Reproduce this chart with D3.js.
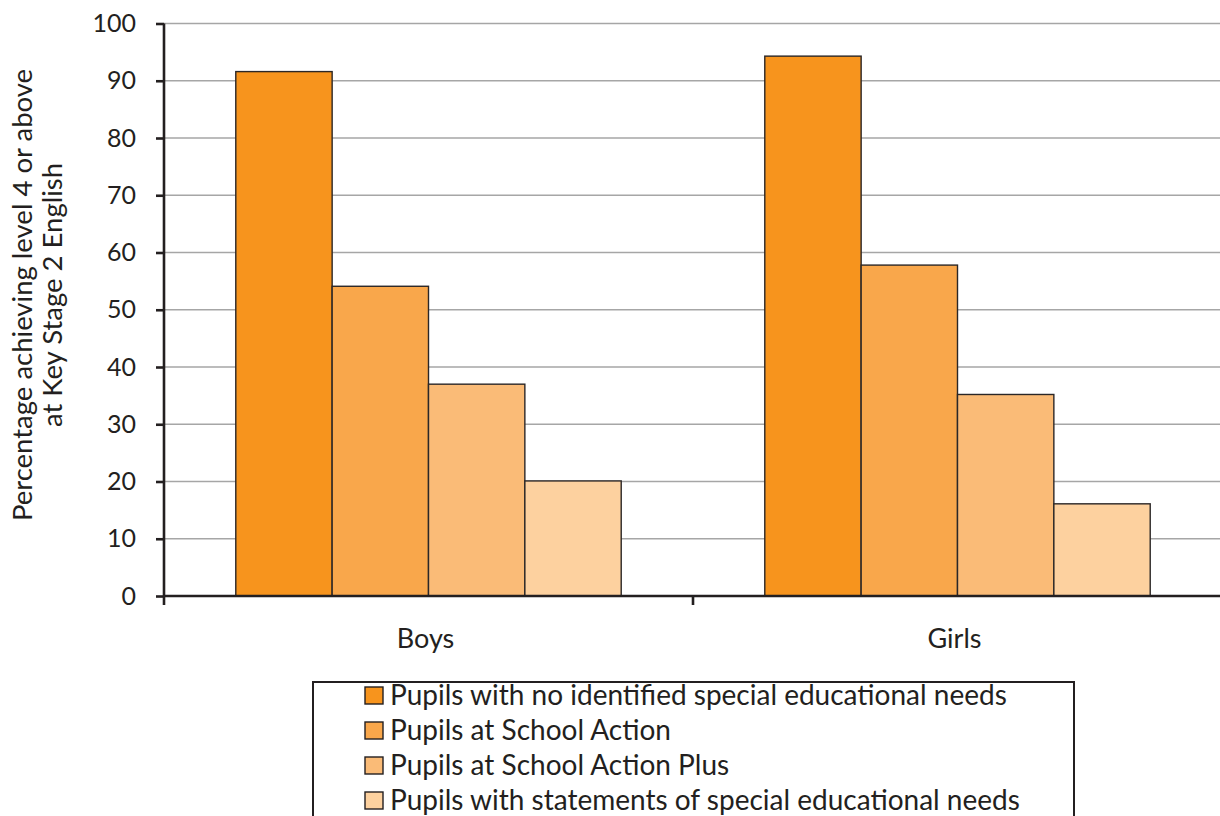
<!DOCTYPE html>
<html>
<head>
<meta charset="utf-8">
<script src="https://cdn.jsdelivr.net/npm/d3@7/dist/d3.min.js"></script>
<style>
  html, body { margin: 0; padding: 0; background: #fff; }
  svg { display: block; font-family: Lato, "Open Sans", sans-serif; }
</style>
</head>
<body>
<svg id="chart" width="1220" height="816"></svg>
<script>
// Key Stage 2 English attainment by pupil group
const categories = ["Boys", "Girls"];
const seriesNames = [
  "Pupils with no identified special educational needs",
  "Pupils at School Action",
  "Pupils at School Action Plus",
  "Pupils with statements of special educational needs"
];
const boysValues = [91.6, 54.1, 37.0, 20.1];
const girlsValues = [94.3, 57.8, 35.2, 16.1];
const yTicks = [0, 10, 20, 30, 40, 50, 60, 70, 80, 90, 100];
const seriesColors = ["#f7941d", "#f9a74b", "#fabb77", "#fdd19f"];

const values = [boysValues, girlsValues];

const svg = d3.select("#chart");
const W = 1220;
const plotLeft = 164, plotTop = 23.5, plotBottom = 596;
const ink = "#231f20";

const x0 = d3.scaleBand().domain(categories).range([plotLeft, 1222]).paddingInner(0).paddingOuter(0);
const x1 = d3.scaleBand().domain(d3.range(seriesNames.length))
  .range([0, x0.bandwidth()]).paddingOuter(0.745).paddingInner(0);
const y = d3.scaleLinear().domain([0, 100]).range([plotBottom, plotTop]);

// horizontal gridlines
svg.append("g").selectAll("line").data(yTicks.filter(d => d > 0)).join("line")
  .attr("x1", plotLeft).attr("x2", W)
  .attr("y1", d => y(d)).attr("y2", d => y(d))
  .attr("stroke", "#a6a6a6").attr("stroke-width", 1.6);

// bars
const groups = svg.append("g").selectAll("g").data(categories).join("g")
  .attr("transform", d => `translate(${x0(d)},0)`);
groups.selectAll("rect").data((d, i) => values[i].map((v, j) => ({ v, j })))
  .join("rect")
  .attr("x", d => x1(d.j))
  .attr("width", x1.bandwidth())
  .attr("y", d => y(d.v))
  .attr("height", d => y(0) - y(d.v))
  .attr("fill", d => seriesColors[d.j])
  .attr("stroke", "#2b2727").attr("stroke-width", 1.4);

// y axis
const yAxis = svg.append("g").attr("transform", `translate(${plotLeft},0)`)
  .call(d3.axisLeft(y).tickValues(yTicks).tickSize(8).tickPadding(20));
yAxis.select(".domain").attr("stroke", ink).attr("stroke-width", 2.6)
  .attr("d", `M0,${y(100)}V${y(0)}`);
yAxis.selectAll(".tick line").attr("stroke", ink).attr("stroke-width", 2.6);
yAxis.selectAll(".tick text").attr("fill", ink)
  .style("font-size", "25px").style("font-family", "Lato, sans-serif");

// x axis
const xAxis = svg.append("g").attr("transform", `translate(0,${plotBottom})`);
xAxis.append("line").attr("x1", plotLeft - 1).attr("x2", W)
  .attr("y1", 0).attr("y2", 0).attr("stroke", ink).attr("stroke-width", 2.6);
xAxis.selectAll(".xtick").data([plotLeft, ...categories.map(c => x0(c) + x0.bandwidth())]).join("line")
  .attr("x1", d => d).attr("x2", d => d).attr("y1", 0).attr("y2", 9)
  .attr("stroke", ink).attr("stroke-width", 2.6);
xAxis.selectAll("text").data(categories).join("text")
  .attr("x", d => x0(d) + x0.bandwidth() / 2 - 3)
  .attr("y", 52)
  .attr("text-anchor", "middle")
  .attr("fill", ink).style("font-size", "27px")
  .text(d => d);

// y axis title
const title = svg.append("text")
  .attr("transform", "translate(0,295) rotate(-90)")
  .attr("text-anchor", "middle").attr("fill", ink).style("font-size", "27.5px");
title.append("tspan").attr("x", 0).attr("y", 32).text("Percentage achieving level 4 or above");
title.append("tspan").attr("x", 0).attr("y", 62).text("at Key Stage 2 English");

// legend
const legend = svg.append("g");
legend.append("rect").attr("x", 313).attr("y", 682).attr("width", 761).attr("height", 150)
  .attr("fill", "#fff").attr("stroke", ink).attr("stroke-width", 2);
const items = legend.selectAll("g.item").data(seriesNames).join("g")
  .attr("transform", (d, i) => `translate(365,${705 + i * 35})`);
items.append("rect").attr("x", 0).attr("y", -18).attr("width", 18).attr("height", 17)
  .attr("fill", (d, i) => seriesColors[i]).attr("stroke", ink).attr("stroke-width", 1.4);
items.append("text").attr("x", 25).attr("y", 0)
  .attr("fill", ink).style("font-size", "28px")
  .text(d => d);
</script>
</body>
</html>
